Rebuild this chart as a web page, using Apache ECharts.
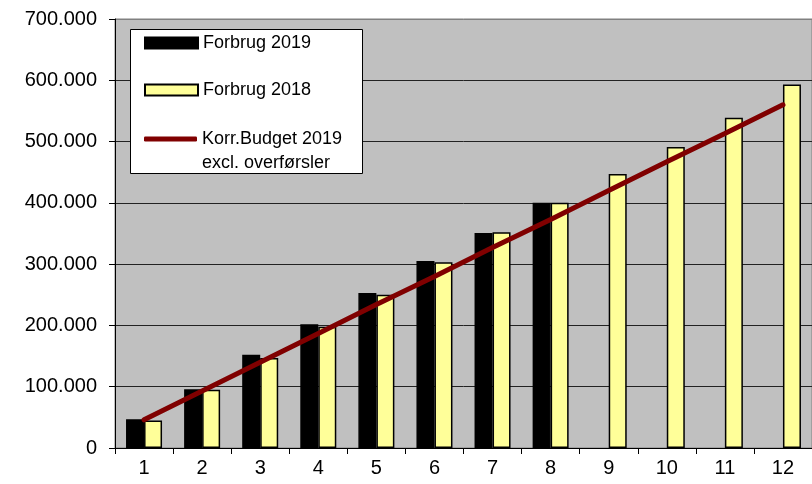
<!DOCTYPE html>
<html>
<head>
<meta charset="utf-8">
<script src="https://cdn.jsdelivr.net/npm/echarts@6/dist/echarts.min.js"></script>
<style>
  html, body { margin: 0; padding: 0; background: #fff; }
  #main { width: 812px; height: 484px; }
</style>
</head>
<body>
<div id="main"></div>
<script>
var months = ['1', '2', '3', '4', '5', '6', '7', '8', '9', '10', '11', '12']
var forbrug2019 = [47000, 96000, 152000, 202000, 253000, 305000, 351000, 400000]
var forbrug2018 = [45000, 95000, 147000, 198000, 250000, 303000, 352000, 400000, 447000, 491000, 539000, 593000]
var budget2019 = [46000, 93000, 140000, 187000, 234000, 280000, 327000, 373000, 420000, 467000, 513000, 560000]
var yTicks = [0, 100000, 200000, 300000, 400000, 500000, 600000, 700000]

var budgetName = 'Korr.Budget 2019\nexcl. overførsler'
var font = 'Liberation Sans, Arial, sans-serif'

var chartDom = document.getElementById('main')
var myChart = echarts.init(chartDom)
var option

function fmt (v) {
  if (v === 0) return '0'
  return Math.round(v / 1000) + '.000'
}

var legendText = {
  fontFamily: font,
  fontSize: 18,
  color: '#000',
  lineHeight: 20
}

option = {
  animation: false,
  textStyle: { fontFamily: font },
  grid: {
    left: 115,
    top: 19,
    bottom: 36,
    right: -4,
    show: true,
    backgroundColor: '#c0c0c0',
    borderColor: '#808080',
    borderWidth: 1
  },
  graphic: [
    {
      type: 'rect',
      left: 130,
      top: 29,
      z: 3,
      shape: { width: 232, height: 144 },
      style: { fill: '#fff', stroke: '#000', lineWidth: 1 }
    }
  ],
  legend: [
    {
      left: 144,
      top: 33,
      padding: 0,
      itemWidth: 53,
      itemHeight: 11,
      textStyle: legendText,
      data: [{ name: 'Forbrug 2019', icon: 'rect' }]
    },
    {
      left: 144,
      top: 80,
      padding: 0,
      itemWidth: 53,
      itemHeight: 11,
      textStyle: legendText,
      data: [{ name: 'Forbrug 2018', icon: 'rect' }]
    },
    {
      // blank first line so the icon sits next to the first text line
      left: 144,
      top: 103,
      padding: 0,
      itemWidth: 53,
      itemHeight: 5,
      formatter: function (name) { return ' \n' + name },
      textStyle: {
        fontFamily: font,
        fontSize: 18,
        color: '#000',
        lineHeight: 24
      },
      data: [{ name: budgetName, icon: 'roundRect', itemStyle: { color: '#800000' } }]
    }
  ],
  xAxis: {
    type: 'category',
    data: months,
    axisLine: { lineStyle: { color: '#000', width: 1 } },
    axisTick: { show: true, length: 6, lineStyle: { color: '#000' } },
    axisLabel: { color: '#000', fontSize: 20, margin: 10, fontFamily: font }
  },
  yAxis: {
    type: 'value',
    min: 0,
    max: 700000,
    interval: 100000,
    axisLine: { show: true, lineStyle: { color: '#000', width: 1 } },
    axisTick: { show: true, length: 6, lineStyle: { color: '#000' } },
    axisLabel: {
      color: '#000',
      fontSize: 20,
      margin: 18,
      fontFamily: font,
      formatter: fmt
    },
    splitLine: {
      show: true,
      lineStyle: {
        color: yTicks.map(function (t) { return t === 700000 ? '#808080' : '#222' }),
        width: 1
      }
    }
  },
  series: [
    {
      name: 'Forbrug 2019',
      type: 'bar',
      barWidth: 18,
      barGap: '0%',
      itemStyle: { color: '#000', borderColor: '#000', borderWidth: 1.5 },
      data: forbrug2019
    },
    {
      name: 'Forbrug 2018',
      type: 'bar',
      barWidth: 18,
      barGap: '0%',
      itemStyle: { color: '#ffff99', borderColor: '#000', borderWidth: 1.5 },
      data: forbrug2018
    },
    {
      name: budgetName,
      type: 'line',
      symbol: 'none',
      z: 5,
      lineStyle: { color: '#800000', width: 5, cap: 'round' },
      itemStyle: { color: '#800000' },
      data: budget2019
    }
  ]
}

option && myChart.setOption(option)

window.addEventListener('resize', () => {
  myChart.resize()
})
</script>
</body>
</html>
